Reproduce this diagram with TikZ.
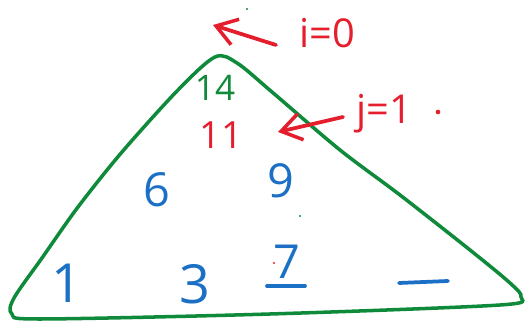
\documentclass[tikz,border=0pt]{standalone}
\usepackage{fontspec}
\setmainfont{Open Sans}
\usetikzlibrary{arrows.meta}
\definecolor{rojoplumon}{HTML}{E41E2D}
\definecolor{verdeplumon}{HTML}{0E8A3A}
\definecolor{azulplumon}{HTML}{1B6FC4}
\colorlet{colIndice}{rojoplumon}
\colorlet{colBorde}{verdeplumon}
\colorlet{colNumero}{azulplumon}
\tikzset{
  numBase/.style={inner sep=0pt, text=colNumero},
  numGrande/.style={numBase, font=\fontsize{46}{46}\selectfont},
  numMedio/.style={numBase, font=\fontsize{40}{40}\selectfont},
  numRojo/.style={numBase, text=colIndice, font=\fontsize{32}{32}\selectfont},
  numVerde/.style={numBase, text=colBorde, font=\fontsize{30}{30}\selectfont},
  etiquetaIndice/.style={inner sep=0pt, text=colIndice, font=\fontsize{34}{34}\selectfont},
  bordeVerde/.style={draw=colBorde, line width=3pt, line join=round},
  trazoAzul/.style={draw=colNumero, line width=3.2pt, line cap=round},
  flechaRoja/.style={-{Straight Barb[length=6mm, width=8mm, line width=3pt]},
    draw=colIndice, line width=3.2pt, line cap=round},
  puntito/.style={circle, inner sep=0pt, minimum size=2pt},
}

\begin{document}
\begin{tikzpicture}[x=0.03cm, y=-0.03cm]
  \useasboundingbox (0,0) rectangle (527,321);

  % el triangulo
  \draw[bordeVerde] plot[smooth cycle, tension=0.5] coordinates {
    (215,57) (178,90) (122,152) (78,207) (42,258) (14,298) (12,314)
    (40,319) (270,314) (500,305) (521,297) (510,283) (470,250)
    (400,195) (340,150) (272,92) (237,63)};

  % numeros
  \node[numVerde] (cima) at (215,88) {14};
  \node[numRojo] (once) at (221,135) {11};
  \node[numMedio] (seis) at (157,190) {6};
  \node[numMedio] (nueve) at (281,181) {9};
  \node[numGrande] (uno) at (67,283) {1};
  \node[numGrande] (tres) at (195,284) {3};
  \node[numMedio] (siete) at (287,262) {7};
  \coordinate (rayaA) at (267,286);
  \coordinate (rayaB) at (305,286);
  \draw[trazoAzul] (rayaA) -- (rayaB);
  \coordinate (huecoA) at (399,283);
  \coordinate (huecoB) at (448,281);
  \draw[trazoAzul] (huecoA) -- (huecoB);

  % indices
  \node[etiquetaIndice] (etiqI) at (327,33) {i=0};
  \node[etiquetaIndice] (etiqJ) at (384,114) {j=1};
  \node[puntito, fill=colIndice, minimum size=4pt] (punto) at (438,112) {};
  \coordinate (colaI) at (276,45);
  \coordinate (topeI) at (213,25);
  \coordinate (colaJ) at (343,117);
  \coordinate (topeJ) at (278,132);
  \draw[flechaRoja] (colaI) -- (topeI);
  \draw[flechaRoja] (colaJ) -- (topeJ);

  % manchitas
  \node[puntito, fill=colBorde] (manchaA) at (247,9) {};
  \node[puntito, fill=colBorde] (manchaB) at (300,216) {};
  \node[puntito, fill=colIndice] (manchaC) at (274,263) {};
\end{tikzpicture}
\end{document}
